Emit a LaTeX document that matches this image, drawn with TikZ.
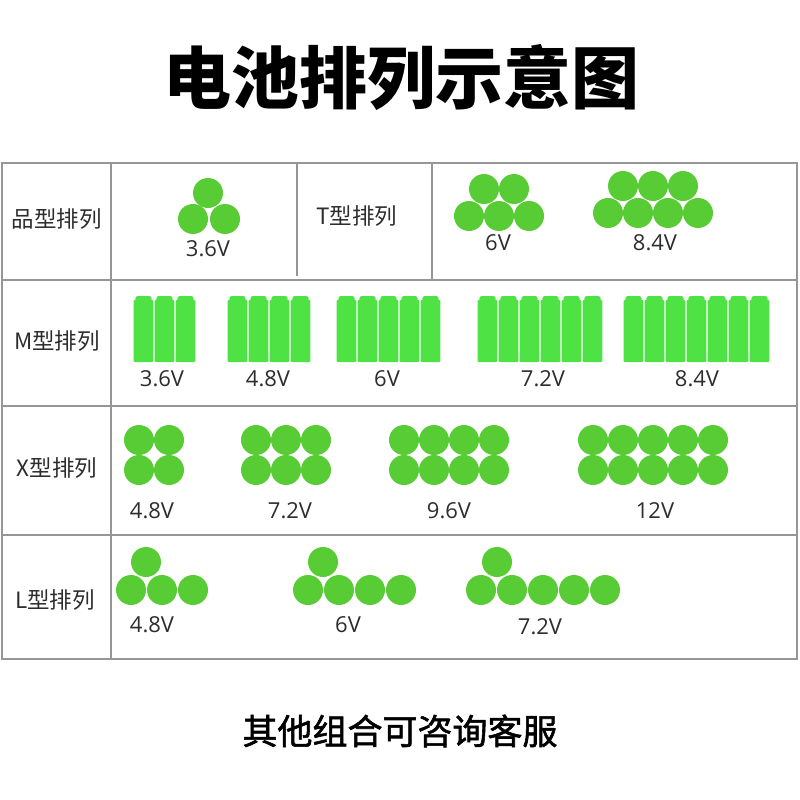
\documentclass[tikz,border=0pt]{standalone}
\usepackage{fontspec}
\setmainfont{Noto Sans CJK SC}
\newfontfamily\voltfont{Open Sans}
\newfontfamily\medfont{Noto Sans CJK SC}[FakeBold=1.6]
\definecolor{cellgreen}{RGB}{88,204,52}
\definecolor{battgreen}{RGB}{78,226,68}
\definecolor{gridgray}{RGB}{150,150,150}
\definecolor{textgray}{RGB}{45,45,45}
\tikzset{cell/.style={fill=cellgreen},batt/.style={fill=battgreen},
 grid/.style={draw=gridgray,line width=1.6pt},
 rowlabel/.style={text=textgray,font=\fontsize{22.5}{22.5}\selectfont},
 volt/.style={text=textgray,font=\voltfont\fontsize{22}{22}\selectfont}}
\newcommand{\battrow}[2]{%
 \foreach \k in {1,...,#2}{%
  \fill[batt,rounded corners=1pt] ({#1+21*(\k-1)+0.6},300) rectangle ++(19.8,62);
  \fill[batt,rounded corners=2.5pt] ({#1+21*(\k-1)+2.4},296) rectangle ++(16.2,8);}}

\begin{document}
\begin{tikzpicture}[x=1pt,y=-1pt]
\fill[white] (0,0) rectangle (800,800);
\useasboundingbox (0,0) rectangle (800,800);
\node[font=\fontsize{68}{68}\selectfont\bfseries] (title) at (401,78) {电池排列示意图};
\coordinate (tl) at (2,163);
\coordinate (br) at (797,659);
\draw[grid] (tl) rectangle (br);
\foreach \y in {280,406,535} \draw[grid] (2,\y) -- (797,\y);
\draw[grid] (111,163) -- (111,659);
\draw[grid] (297,163) -- (297,276);
\draw[grid] (432,163) -- (432,280);
\node[rowlabel] (pin) at (57,219) {品型排列};
\node[rowlabel] (tee) at (357,216) {T型排列};
\node[rowlabel] (em) at (57,341) {M型排列};
\node[rowlabel] (ex) at (57,468) {X型排列};
\node[rowlabel] (el) at (55,600) {L型排列};
\foreach \x/\y in {208/193,193/219,225/219} \fill[cell] (\x,\y) circle (15pt);
\foreach \x in {484,514} \fill[cell] (\x,189) circle (15pt);
\foreach \x in {469,499,529} \fill[cell] (\x,216) circle (15pt);
\foreach \x in {623,653,683} \fill[cell] (\x,186) circle (15pt);
\foreach \x in {608,638,668,698} \fill[cell] (\x,213) circle (15pt);
\node[volt] (pin36) at (208,249) {3.6V};
\node[volt] (tee6) at (498,243) {6V};
\node[volt] (tee84) at (655,243) {8.4V};
\battrow{133}{3}
\battrow{227}{4}
\battrow{336}{5}
\battrow{477}{6}
\battrow{623}{7}
\node[volt] (em36) at (162,379) {3.6V};
\node[volt] (em48) at (268,379) {4.8V};
\node[volt] (em6) at (387,379) {6V};
\node[volt] (em72) at (543,379) {7.2V};
\node[volt] (em84) at (697,379) {8.4V};
\foreach \y in {440,470}{
 \foreach \x in {139,169} \fill[cell] (\x,\y) circle (15pt);
 \foreach \x in {256,286,316} \fill[cell] (\x,\y) circle (15pt);
 \foreach \x in {404,434,464,494} \fill[cell] (\x,\y) circle (15pt);
 \foreach \x in {593,623,653,683,713} \fill[cell] (\x,\y) circle (15pt);}
\node[volt] (ex48) at (152,511) {4.8V};
\node[volt] (ex72) at (290,511) {7.2V};
\node[volt] (ex96) at (449,511) {9.6V};
\node[volt] (ex12) at (655,511) {12V};
\foreach \x in {146,323,497} \fill[cell] (\x,562) circle (15pt);
\foreach \x in {131,162,193,308,339,370,401,481,512,543,574,605} \fill[cell] (\x,590) circle (15pt);
\node[volt] (el48) at (152,625) {4.8V};
\node[volt] (el6) at (348,625) {6V};
\node[volt] (el72) at (540,627) {7.2V};
\node[font=\medfont\fontsize{35}{35}\selectfont] (more) at (400,731) {其他组合可咨询客服};
\end{tikzpicture}
\end{document}
